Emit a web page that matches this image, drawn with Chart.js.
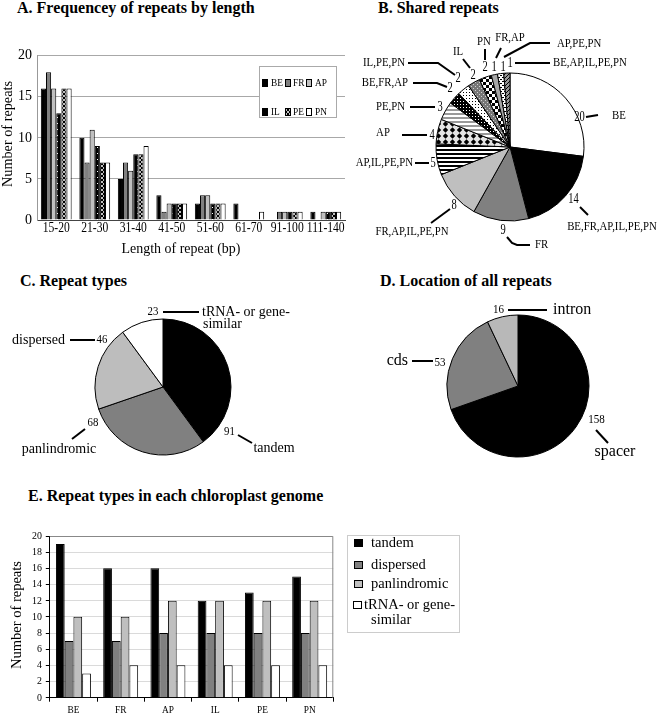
<!DOCTYPE html>
<html>
<head>
<meta charset="utf-8">
<title>Chloroplast repeats</title>
<script src="https://cdn.jsdelivr.net/npm/chart.js@4.4.1/dist/chart.umd.min.js"></script>
<style>
  body { margin: 0; background: #fff; }
  #page { position: relative; width: 661px; height: 717px; overflow: hidden; font-family: 'Liberation Serif', 'Times New Roman', serif; }
  #page canvas { position: absolute; }
  .ttl { position: absolute; font-size: 16px; line-height: 16px; font-weight: bold; white-space: nowrap; color: #000; }
</style>
</head>
<body>
<div id="page">
  <div class="ttl" style="left:17px;top:0px">A. Frequencey of repeats by length</div>
  <div class="ttl" style="left:378px;top:0px">B. Shared repeats</div>
  <div class="ttl" style="left:20px;top:273px">C. Repeat types</div>
  <div class="ttl" style="left:380px;top:273px">D. Location of all repeats</div>
  <div class="ttl" style="left:28px;top:488px">E. Repeat types in each chloroplast genome</div>
  <canvas id="lenChart" width="350" height="258" style="left:0;top:0"></canvas>
  <canvas id="sharedChart" width="331" height="240" style="left:330px;top:25px"></canvas>
  <canvas id="typeChart" width="330" height="175" style="left:0;top:295px"></canvas>
  <canvas id="locChart" width="331" height="175" style="left:330px;top:295px"></canvas>
  <canvas id="genomeChart" width="470" height="202" style="left:0;top:515px"></canvas>
</div>
<script>
// ---- data ----
const lengthBins = ['15-20', '21-30', '31-40', '41-50', '51-60', '61-70', '91-100', '111-140'];
const genomes = ['BE', 'FR', 'AP', 'IL', 'PE', 'PN'];
const lenBE = [16, 10, 5, 3, 2, 2, 0, 1];
const lenFR = [18, 7, 7, 1, 3, 0, 1, 0];
const lenAP = [16, 11, 6, 2, 3, 0, 1, 1];
const lenIL = [13, 9, 8, 2, 2, 0, 1, 1];
const lenPE = [16, 7, 8, 2, 2, 0, 1, 1];
const lenPN = [16, 7, 9, 2, 2, 1, 1, 1];

const sharedLabels = ['BE', 'BE,FR,AP,IL,PE,PN', 'FR', 'FR,AP,IL,PE,PN', 'AP,IL,PE,PN', 'AP', 'PE,PN',
  'BE,FR,AP', 'IL,PE,PN', 'IL', 'PN', 'FR,AP', 'AP,PE,PN', 'BE,AP,IL,PE,PN'];
const sharedCounts = [20, 14, 9, 8, 5, 4, 3, 2, 2, 2, 2, 1, 1, 1];

const typeLabels = ['tandem', 'panlindromic', 'dispersed', ['tRNA- or gene-', 'similar']];
const typeCounts = [91, 68, 46, 23];

const locLabels = ['spacer', 'cds', 'intron'];
const locCounts = [158, 53, 16];

const seriesNames = ['tandem', 'dispersed', 'panlindromic', ['tRNA- or gene-', 'similar']];
const tandemByGenome = [19, 16, 16, 12, 13, 15];
const dispersedByGenome = [7, 7, 8, 8, 8, 8];
const palinByGenome = [10, 10, 12, 12, 12, 12];
const trnaByGenome = [3, 4, 4, 4, 4, 4];

// ---- styles ----
const SERIF = '"Liberation Serif", "Times New Roman", serif';
Chart.defaults.font.family = SERIF;
Chart.defaults.animation = false;
Chart.defaults.events = [];
Chart.defaults.responsive = false;
Chart.defaults.plugins.legend.display = false;
Chart.defaults.plugins.tooltip.enabled = false;

function tile(w, h, paint) {
  const c = document.createElement('canvas');
  c.width = w; c.height = h;
  const g = c.getContext('2d');
  paint(g);
  return g.createPattern(c, 'repeat');
}
function px(g, color, rects) {
  g.fillStyle = color;
  rects.forEach(r => g.fillRect(r[0], r[1], r[2] || 1, r[3] || 1));
}

const pat = {
  blackDots: tile(5, 6, g => { px(g, '#000', [[0, 0, 5, 6]]); px(g, '#fff', [[2, 3]]); }),
  cross: tile(4, 4, g => { px(g, '#000', [[0, 0, 4, 4]]); px(g, '#c0c0c0', [[0, 0], [1, 1], [2, 2], [3, 3], [3, 0], [2, 1], [1, 2], [0, 3]]); }),
  bwStripes: tile(4, 4, g => { px(g, '#fff', [[0, 0, 4, 4]]); px(g, '#000', [[0, 0, 4, 2]]); }),
  diamonds: tile(7, 6, g => {
    px(g, '#e4e4e4', [[0, 0, 7, 6]]);
    g.fillStyle = '#000'; g.beginPath();
    g.moveTo(3.5, 0.3); g.lineTo(6.2, 3); g.lineTo(3.5, 5.7); g.lineTo(0.8, 3); g.closePath(); g.fill();
  }),
  grayStripes: tile(4, 4, g => { px(g, '#fff', [[0, 0, 4, 4]]); px(g, '#999', [[0, 0, 4, 2]]); }),
  denseDots: tile(3, 3, g => { px(g, '#000', [[0, 0, 3, 3]]); px(g, '#fff', [[1, 1]]); }),
  lightDots: tile(3, 3, g => { px(g, '#fff', [[0, 0, 3, 3]]); px(g, '#000', [[1, 1]]); }),
  grayDots: tile(4, 4, g => { px(g, '#777', [[0, 0, 4, 4]]); px(g, '#d0d0d0', [[1, 1], [3, 3]]); }),
  checker: tile(6, 6, g => { px(g, '#fff', [[0, 0, 6, 6]]); px(g, '#000', [[0, 0, 3, 3], [3, 3, 3, 3]]); }),
  dashes: tile(4, 4, g => { px(g, '#fff', [[0, 0, 4, 4]]); px(g, '#000', [[0, 0, 2, 1], [2, 2, 2, 1]]); }),
  diagonal: tile(4, 4, g => { px(g, '#999', [[0, 0, 4, 4]]); px(g, '#000', [[0, 3], [1, 2], [2, 1], [3, 0]]); })
};

const lenFills = ['#000', '#808080', '#bfbfbf', pat.blackDots, pat.cross, '#fff'];
const sharedFills = ['#fff', '#000', '#808080', '#bfbfbf', pat.bwStripes, pat.diamonds, pat.grayStripes,
  pat.denseDots, pat.lightDots, pat.grayDots, pat.checker, '#a6a6a6', pat.dashes, pat.diagonal];
const typeFills = ['#000', '#808080', '#bdbdbd', '#fff'];
const locFills = ['#000', '#808080', '#b8b8b8'];
const genomeFills = ['#000', '#808080', '#bfbfbf', '#fff'];

// ---- text helpers / plugins ----
function txt(ctx, s, x, y, align, f) {
  ctx.save();
  ctx.fillStyle = '#000';
  ctx.font = f.size + 'px ' + SERIF;
  ctx.textAlign = align;
  ctx.textBaseline = 'middle';
  ctx.translate(x, y);
  ctx.scale(f.sx || 1, 1);
  ctx.fillText(s, 0, 0);
  ctx.restore();
}

function axisText(cfg) {
  return {
    id: 'axisText',
    afterDraw(chart) {
      const ctx = chart.ctx, xs = chart.scales.x, ys = chart.scales.y, a = chart.chartArea;
      ctx.save();
      if (cfg.frame) {
        ctx.strokeStyle = cfg.frame; ctx.lineWidth = 1;
        ctx.beginPath();
        ctx.moveTo(a.left, a.top + 0.5); ctx.lineTo(a.right - 0.5, a.top + 0.5); ctx.lineTo(a.right - 0.5, a.bottom);
        ctx.stroke();
      }
      ys.ticks.forEach(t => txt(ctx, String(t.value), cfg.yTickRight, ys.getPixelForValue(t.value), 'right', cfg.yTick));
      chart.data.labels.forEach((lab, i) => txt(ctx, lab, xs.getPixelForValue(i), cfg.xTickY, 'center', cfg.xTick));
      if (cfg.xTitle) txt(ctx, cfg.xTitle.text, cfg.xTitle.x, cfg.xTitle.y, 'center', cfg.xTitle.font);
      ctx.translate(cfg.yTitle.x, cfg.yTitle.y);
      ctx.rotate(-Math.PI / 2);
      txt(ctx, cfg.yTitle.text, 0, 0, 'center', cfg.yTitle.font);
      ctx.restore();
    }
  };
}

function boxLegend(cfg) {
  return {
    id: 'boxLegend',
    afterDraw(chart) {
      const ctx = chart.ctx, b = cfg.box;
      ctx.save();
      ctx.fillStyle = '#fff'; ctx.strokeStyle = cfg.frame; ctx.lineWidth = 1;
      ctx.fillRect(b[0], b[1], b[2], b[3]);
      ctx.strokeRect(b[0] + 0.5, b[1] + 0.5, b[2], b[3]);
      chart.data.datasets.forEach((ds, i) => {
        const it = cfg.items[i];
        ctx.fillStyle = ds.backgroundColor;
        ctx.fillRect(it.sq[0], it.sq[1], cfg.sq[0], cfg.sq[1]);
        ctx.strokeStyle = '#000';
        ctx.strokeRect(it.sq[0] + 0.5, it.sq[1] + 0.5, cfg.sq[0] - 1, cfg.sq[1] - 1);
        const lines = [].concat(cfg.names[i]);
        lines.forEach((line, k) => txt(ctx, line, it.text[0] + (k ? cfg.indent : 0), it.text[1] + k * cfg.lh, 'left', cfg.font));
      });
      ctx.restore();
    }
  };
}

function pieNotes(cfg) {
  return {
    id: 'pieNotes',
    afterDatasetsDraw(chart) {
      const ctx = chart.ctx;
      const arc = chart.getDatasetMeta(0).data[0];
      const cx = arc.x, cy = arc.y;
      const values = chart.data.datasets[0].data;
      const names = chart.data.labels;
      ctx.save();
      ctx.strokeStyle = '#000';
      ctx.lineWidth = 2;
      cfg.spots.forEach((s, i) => {
        ctx.beginPath();
        s.line.forEach((p, k) => k ? ctx.lineTo(cx + p[0], cy + p[1]) : ctx.moveTo(cx + p[0], cy + p[1]));
        ctx.stroke();
        txt(ctx, String(values[i]), cx + s.num[0], cy + s.num[1], 'center', cfg.numFont);
        [].concat(names[i]).forEach((line, k) =>
          txt(ctx, line, cx + s.name[0] + (k ? 1 : 0), cy + s.name[1] + k * cfg.lh, s.align, cfg.nameFont));
      });
      ctx.restore();
    }
  };
}

function pieChart(id, labels, values, fills, center, r, notes) {
  const cv = document.getElementById(id);
  return new Chart(cv, {
    type: 'pie',
    data: { labels: labels, datasets: [{ data: values, backgroundColor: fills, borderColor: '#000', borderWidth: 1 }] },
    options: {
      radius: r,
      layout: { padding: { left: center[0] - r, top: center[1] - r, right: cv.width - center[0] - r, bottom: cv.height - center[1] - r } }
    },
    plugins: [pieNotes(notes)]
  });
}

const drawAll = () => {
  // ---- A. frequency by length ----
  const lenSeries = [lenBE, lenFR, lenAP, lenIL, lenPE, lenPN];
  new Chart(document.getElementById('lenChart'), {
    type: 'bar',
    data: {
      labels: lengthBins,
      datasets: genomes.map((g, i) => ({ label: g, data: lenSeries[i], backgroundColor: lenFills[i] }))
    },
    options: {
      layout: { padding: { top: 55.7, right: 5, left: 0, bottom: 0 } },
      datasets: { bar: { categoryPercentage: 0.8, barPercentage: 1, borderColor: '#000', borderWidth: 1 } },
      scales: {
        x: {
          afterFit: s => { s.height = 38; },
          ticks: { display: false },
          grid: { display: false },
          border: { color: '#444' }
        },
        y: {
          min: 0, max: 20,
          afterFit: s => { s.width = 37; },
          ticks: { display: false, stepSize: 5 },
          grid: { color: '#a8a8a8', drawTicks: false },
          border: { color: '#999' }
        }
      }
    },
    plugins: [
      axisText({
        yTickRight: 32, yTick: { size: 14 },
        xTickY: 228, xTick: { size: 14, sx: 0.83 },
        xTitle: { text: 'Length of repeat (bp)', x: 181, y: 249, font: { size: 15, sx: 0.93 } },
        yTitle: { text: 'Number of repeats', x: 8, y: 134, font: { size: 15, sx: 0.95 } }
      }),
      boxLegend({
        box: [259, 66, 77, 51], frame: '#aaa', sq: [6, 8], font: { size: 11, sx: 0.85 }, lh: 0, indent: 0,
        names: genomes,
        items: [
          { sq: [262, 79], text: [271, 83] }, { sq: [285, 79], text: [293, 83] }, { sq: [306, 79], text: [315, 83] },
          { sq: [262, 108], text: [271, 112] }, { sq: [285, 108], text: [293, 112] }, { sq: [306, 108], text: [315, 112] }
        ]
      })
    ]
  });

  // ---- B. shared repeats ----
  pieChart('sharedChart', sharedLabels, sharedCounts, sharedFills, [180, 122], 74, {
    numFont: { size: 14, sx: 0.75 }, nameFont: { size: 12, sx: 0.9 }, lh: 12,
    spots: [
      { num: [69.5, -30], line: [[76, -30], [88, -32]], name: [102, -31], align: 'left' },
      { num: [63.5, 52], line: [[70, 60], [78, 68]], name: [102, 80], align: 'center' },
      { num: [-7, 83], line: [[-3, 90], [2, 96], [7, 98], [20, 98]], name: [25, 98], align: 'left' },
      { num: [-56, 58], line: [[-60, 62], [-79, 76]], name: [-98, 85], align: 'center' },
      { num: [-77, 16], line: [[-81, 16], [-95, 16]], name: [-97, 16], align: 'right' },
      { num: [-78, -12], line: [[-83, -12], [-108, -12]], name: [-127, -14], align: 'center' },
      { num: [-70, -40], line: [[-75, -40], [-100, -40]], name: [-105, -40], align: 'right' },
      { num: [-60, -59], line: [[-63, -60], [-73, -64], [-97, -64]], name: [-102, -64], align: 'right' },
      { num: [-52, -69], line: [[-55, -72], [-72, -84], [-102, -84]], name: [-105, -84], align: 'right' },
      { num: [-37, -72], line: [[-40, -79], [-47, -88]], name: [-52, -95], align: 'center' },
      { num: [-25, -80], line: [[-25, -87], [-25, -98]], name: [-26, -105], align: 'center' },
      { num: [-16, -80], line: [[-14, -89], [-9, -99]], name: [0, -109], align: 'center' },
      { num: [-7, -80], line: [[-6, -90], [20, -104], [40, -104]], name: [47, -103], align: 'left' },
      { num: [0, -84], line: [[5, -84], [40, -84]], name: [43, -84], align: 'left' }
    ]
  });

  // ---- C. repeat types ----
  pieChart('typeChart', typeLabels, typeCounts, typeFills, [163, 92], 68, {
    numFont: { size: 12, sx: 0.9 }, nameFont: { size: 14 }, lh: 12,
    spots: [
      { num: [66.5, 45], line: [[75, 48], [89, 56]], name: [111, 61], align: 'center' },
      { num: [-70, 36], line: [[-78, 42], [-91, 52]], name: [-104, 62], align: 'center' },
      { num: [-61, -47], line: [[-68, -47], [-93, -47]], name: [-98, -47], align: 'right' },
      { num: [-10, -75], line: [[0, -75], [36, -75]], name: [39, -75], align: 'left' }
    ]
  });

  // ---- D. location ----
  pieChart('locChart', locLabels, locCounts, locFills, [188, 91], 71, {
    numFont: { size: 12, sx: 0.92 }, nameFont: { size: 16 }, lh: 16,
    spots: [
      { num: [78.5, 34], line: [[78, 44], [90, 57]], name: [97, 66], align: 'center' },
      { num: [-78, -23], line: [[-85, -25], [-106, -25]], name: [-110, -25], align: 'right' },
      { num: [-19.5, -76], line: [[-10, -76], [29, -76]], name: [35, -76], align: 'left' }
    ]
  });

  // ---- E. repeat types per genome ----
  const genomeSeries = [tandemByGenome, dispersedByGenome, palinByGenome, trnaByGenome];
  new Chart(document.getElementById('genomeChart'), {
    type: 'bar',
    data: {
      labels: genomes,
      datasets: seriesNames.map((n, i) => ({ label: [].concat(n).join(''), data: genomeSeries[i], backgroundColor: genomeFills[i] }))
    },
    options: {
      layout: { padding: { top: 21, right: 136.7, left: 0, bottom: 0 } },
      datasets: { bar: { categoryPercentage: 0.74, barPercentage: 1, borderColor: '#000', borderWidth: 1 } },
      scales: {
        x: {
          afterFit: s => { s.height = 19.3; },
          ticks: { display: false },
          grid: { drawOnChartArea: false, tickLength: 4, tickColor: '#000', offset: true },
          border: { color: '#000' }
        },
        y: {
          min: 0, max: 20,
          afterFit: s => { s.width = 49.8; },
          ticks: { display: false, stepSize: 2 },
          grid: { color: '#dadada', tickLength: 4, tickColor: '#000' },
          border: { color: '#000' }
        }
      }
    },
    plugins: [
      axisText({
        frame: '#888',
        yTickRight: 42, yTick: { size: 11, sx: 0.9 },
        xTickY: 195, xTick: { size: 11, sx: 0.85 },
        yTitle: { text: 'Number of repeats', x: 17, y: 100, font: { size: 14.5 } }
      }),
      boxLegend({
        box: [347, 20, 112, 97], frame: '#ccc', sq: [9, 8], font: { size: 14.5 }, lh: 15, indent: 7,
        names: seriesNames,
        items: [
          { sq: [354, 24], text: [371, 28] }, { sq: [354, 46], text: [371, 50] },
          { sq: [354, 65], text: [371, 69] }, { sq: [353, 86], text: [364, 90] }
        ]
      })
    ]
  });
};

// make sure the serif face is ready before the canvases paint text
Promise.all([
  document.fonts.load('14px "Liberation Serif"'),
  document.fonts.load('bold 16px "Liberation Serif"')
]).then(drawAll, drawAll);
</script>
</body>
</html>
